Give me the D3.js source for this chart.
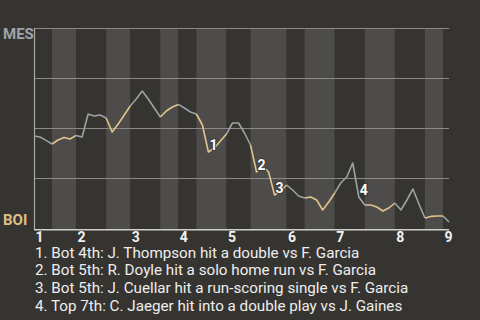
<!DOCTYPE html>
<html>
<head>
<meta charset="utf-8">
<script src="https://cdn.jsdelivr.net/npm/d3@7"></script>
<style>
  body { margin: 0; background: #363431; }
  svg { display: block; font-family: Roboto, "Noto Sans", sans-serif; }
</style>
</head>
<body>
<svg id="chart" width="480" height="320"></svg>
<script>
// plays per half inning (top 1, bot 1, top 2, ...)
const halfInnings = [3, 4, 5, 4, 5, 3, 3, 5, 4, 6, 3, 5, 5, 5, 5, 3, 1];
const inningLabels = ["1", "2", "3", "4", "5", "6", "7", "8", "9"];

// MES win probability (%) after each play
const winProb = [
  46, 45.5, 43.8, 42, 44, 45.3, 44.5, 46.3, 45.5, 57,
  56, 56.5, 55, 48, 52, 56.5, 61, 64.5, 68.5, 64.5,
  60, 55.5, 58.5, 60.5, 61.8, 60, 58, 57, 51.5, 38,
  40, 43.5, 47, 52.5, 52.5, 47.5, 41.5, 28, 31, 28,
  16.5, 18.5, 21.5, 19, 16, 15, 15.5, 14, 9, 13,
  17.5, 22.5, 25.5, 32.5, 15.5, 11.5, 11.5, 10.5, 8.5, 10,
  12.5, 9, 14, 19.5, 12, 5, 5.8, 6, 6, 3
];

const keyPlays = [29, 37, 40, 54];
const keyTexts = [
  "1. Bot 4th: J. Thompson hit a double vs F. Garcia",
  "2. Bot 5th: R. Doyle hit a solo home run vs F. Garcia",
  "3. Bot 5th: J. Cuellar hit a run-scoring single vs F. Garcia",
  "4. Top 7th: C. Jaeger hit into a double play vs J. Gaines"
];

const svg = d3.select("#chart");
const m = { left: 34, right: 449, top: 28, bottom: 228 };

const x = d3.scaleLinear().domain([0, winProb.length - 1]).range([m.left, m.right]);
const y = d3.scaleLinear().domain([0, 100]).range([m.bottom, m.top]);

// half-inning boundaries
const starts = [];
let acc = 0;
halfInnings.forEach(n => { starts.push(acc); acc += n; });

// stripes
svg.append("g").selectAll("rect")
  .data(halfInnings)
  .join("rect")
  .attr("x", (d, i) => x(starts[i]))
  .attr("width", (d, i) => x(starts[i] + d) - x(starts[i]))
  .attr("y", m.top)
  .attr("height", 230 - m.top)
  .attr("fill", (d, i) => i % 2 ? "#4e4c4a" : "#363431");

// gridlines
svg.append("g").selectAll("line")
  .data([100, 75, 50, 25])
  .join("line")
  .attr("x1", m.left).attr("x2", m.right)
  .attr("y1", d => y(d) + 0.5).attr("y2", d => y(d) + 0.5)
  .attr("stroke", "#8a8987")
  .attr("stroke-width", 1.2);

svg.append("line")
  .attr("x1", m.left + 0.5).attr("x2", m.left + 0.5)
  .attr("y1", m.top).attr("y2", 230)
  .attr("stroke", "#a9a9a7").attr("stroke-width", 1.2);
svg.append("line")
  .attr("x1", m.left).attr("x2", m.right)
  .attr("y1", 229.8).attr("y2", 229.8)
  .attr("stroke", "#d0d0ce").attr("stroke-width", 1.4);

// team labels
svg.append("text").attr("x", 3).attr("y", 39)
  .attr("font-size", 15).attr("font-weight", "bold")
  .attr("fill", "#9ea4a8").text("MES");
svg.append("text").attr("x", 3).attr("y", 225)
  .attr("font-size", 15).attr("font-weight", "bold")
  .attr("fill", "#dcc083").text("BOI");

// win probability line, coloured by half inning
const line = d3.line()
  .x(i => x(i))
  .y(i => y(winProb[i]));

svg.append("g").selectAll("path")
  .data(halfInnings)
  .join("path")
  .attr("d", (d, i) => line(d3.range(starts[i], starts[i] + d + 1).filter(j => j < winProb.length)))
  .attr("fill", "none")
  .attr("stroke", (d, i) => i % 2 ? "#e0c48a" : "#9aa2a6")
  .attr("stroke-width", 1.6)
  .attr("stroke-linejoin", "round");

// key play markers
svg.append("g").selectAll("text")
  .data(keyPlays)
  .join("text")
  .attr("x", d => x(d) + 1)
  .attr("y", d => y(winProb[d]) - 2)
  .attr("font-size", 14).attr("font-weight", "bold")
  .attr("fill", "#ffffff")
  .attr("stroke", "#3a3835").attr("stroke-width", 2)
  .attr("paint-order", "stroke")
  .text((d, i) => i + 1);

// inning labels
svg.append("g").selectAll("text")
  .data(inningLabels)
  .join("text")
  .attr("x", (d, i) => x(starts[i * 2]) + 1.5)
  .attr("y", 242)
  .attr("font-size", 14).attr("font-weight", "bold")
  .attr("fill", "#f2f2f2")
  .text(d => d);

// key play descriptions
svg.append("g").selectAll("text")
  .data(keyTexts)
  .join("text")
  .attr("x", 35)
  .attr("y", (d, i) => 257.5 + i * 17.8)
  .attr("font-size", 15.2)
  .attr("fill", "#eeeeee")
  .text(d => d);
</script>
</body>
</html>
